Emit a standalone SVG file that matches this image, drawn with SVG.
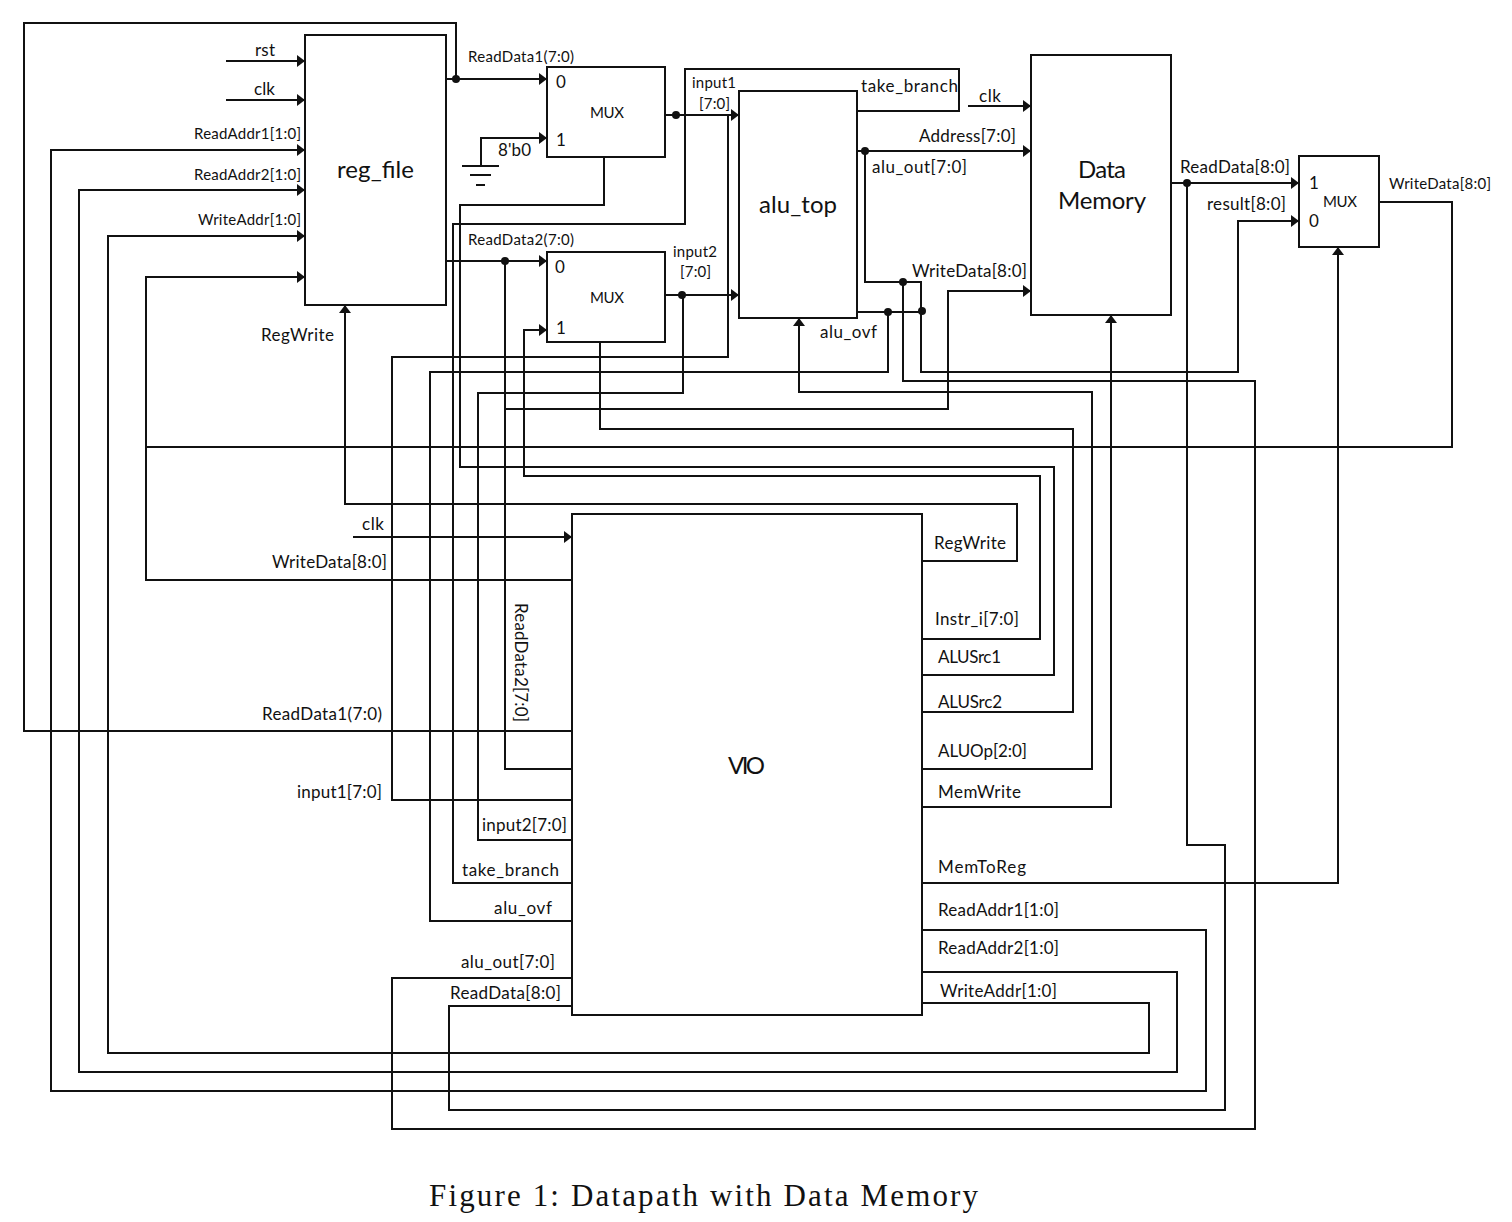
<svg xmlns="http://www.w3.org/2000/svg" width="1512" height="1222" viewBox="0 0 1512 1222">
<style>
.box{fill:none;stroke:#111;stroke-width:2}
.w{fill:none;stroke:#111;stroke-width:2;stroke-linejoin:miter}
.a{marker-end:url(#tip)}
.d{fill:#111}
text{font-family:Lato,"Open Sans",sans-serif;fill:#111;font-size:17px}
.s{font-size:15px}
.b{font-size:24px}
.c{font-family:"Liberation Serif",serif;font-size:31px}
</style>
<defs>
<marker id="tip" markerUnits="userSpaceOnUse" markerWidth="9" markerHeight="12" refX="8" refY="6" orient="auto">
<path d="M0,0L8,6L0,12Z" fill="#111"/>
</marker>
</defs>
<rect width="1512" height="1222" fill="#fff"/>
<g id="connectors">
<path class="w a" d="M226,61H305"/>
<path class="w a" d="M226,100H305"/>
<path class="w a" d="M922,930H1206V1091H51V150H305"/>
<path class="w a" d="M922,972H1177V1072H79V190H305"/>
<path class="w a" d="M922,1003H1149V1053H108V236H305"/>
<path class="w a" d="M572,580H146V277H305"/>
<path class="w" d="M1379,202H1452V447H146"/>
<path class="w a" d="M922,561H1017V504H345V305"/>
<path class="w a" d="M446,79H547"/>
<path class="w" d="M572,731H24V23H456V79"/>
<path class="w a" d="M481,166V138H547"/>
<path class="w" d="M462,166H499M470,175H491M476,185H485"/>
<path class="w" d="M604,157V205H460V467H1054V675H922"/>
<path class="w" d="M857,111H959V69H685V224H453V883H572"/>
<path class="w a" d="M665,115H739"/>
<path class="w" d="M728,115V357H392V800H572"/>
<path class="w a" d="M665,295H739"/>
<path class="w" d="M683,295V393H478V840H572"/>
<path class="w a" d="M446,261H547"/>
<path class="w" d="M505,261V769H572"/>
<path class="w a" d="M922,639H1040V476H524V330H547"/>
<path class="w" d="M600,342V429H1073V712H922"/>
<path class="w a" d="M922,769H1092V392H799V318"/>
<path class="w a" d="M922,807H1111V315"/>
<path class="w a" d="M922,883H1338V247"/>
<path class="w a" d="M857,151H1031"/>
<path class="w a" d="M865,151V282H921V372H1238V221H1299"/>
<path class="w" d="M903,282V381H1255V1129H392V978H572"/>
<path class="w" d="M857,312H922"/>
<path class="w" d="M888,312V372H430V921H572"/>
<path class="w a" d="M505,409H948V291H1031"/>
<path class="w a" d="M1171,183H1299"/>
<path class="w" d="M1187,183V845H1225V1110H449V1006H572"/>
<path class="w a" d="M968,106H1031"/>
<path class="w a" d="M353,537H572"/>
<g class="d">
<circle cx="456" cy="79" r="4"/><circle cx="676" cy="115" r="4"/><circle cx="505" cy="261" r="4"/><circle cx="682" cy="295" r="4"/>
<circle cx="865" cy="151" r="4"/><circle cx="903" cy="282" r="4"/><circle cx="888" cy="312" r="4"/><circle cx="922" cy="311" r="4"/><circle cx="1187" cy="183" r="4"/>
</g>
</g>
<g id="reg_file"><rect class="box" x="305" y="35" width="141" height="270"/><text class="b" x="337" y="178" textLength="77">reg_file</text></g>
<g id="mux_a"><rect class="box" x="547" y="67" width="118" height="90"/><text class="s" x="590" y="118" textLength="34">MUX</text><text x="556" y="88" textLength="9">0</text><text x="556" y="146" textLength="9">1</text></g>
<g id="mux_b"><rect class="box" x="547" y="252" width="118" height="90"/><text class="s" x="590" y="303" textLength="34">MUX</text><text x="555" y="273" textLength="9">0</text><text x="556" y="334" textLength="9">1</text></g>
<g id="alu_top"><rect class="box" x="739" y="91" width="118" height="227"/><text class="b" x="759" y="213" textLength="78">alu_top</text></g>
<g id="data_memory"><rect class="box" x="1031" y="55" width="140" height="260"/><text class="b" x="1078" y="178" textLength="48">Data</text><text class="b" x="1058" y="209" textLength="88">Memory</text></g>
<g id="mux_c"><rect class="box" x="1299" y="156" width="80" height="91"/><text class="s" x="1323" y="207" textLength="34">MUX</text><text x="1309" y="189" textLength="9">1</text><text x="1309" y="227" textLength="9">0</text></g>
<g id="vio"><rect class="box" x="572" y="514" width="350" height="501"/><text class="b" x="728" y="774" textLength="37">VIO</text></g>
<g id="labels">
<text x="255" y="56" textLength="20">rst</text>
<text x="254" y="95" textLength="21">clk</text>
<text class="s" x="194" y="139" textLength="107">ReadAddr1[1:0]</text>
<text class="s" x="194" y="180" textLength="107">ReadAddr2[1:0]</text>
<text class="s" x="198" y="225" textLength="103">WriteAddr[1:0]</text>
<text x="261" y="341" textLength="73">RegWrite</text>
<text class="s" x="468" y="62" textLength="106">ReadData1(7:0)</text>
<text x="498" y="156" textLength="33">8'b0</text>
<text class="s" x="468" y="245" textLength="106">ReadData2(7:0)</text>
<text class="s" x="692" y="88" textLength="44">input1</text>
<text class="s" x="699" y="109" textLength="31">[7:0]</text>
<text class="s" x="673" y="257" textLength="44">input2</text>
<text class="s" x="680" y="277" textLength="31">[7:0]</text>
<text x="861" y="92" textLength="97">take_branch</text>
<text x="979" y="102" textLength="22">clk</text>
<text x="919" y="142" textLength="97">Address[7:0]</text>
<text x="872" y="173" textLength="95">alu_out[7:0]</text>
<text x="912" y="277" textLength="115">WriteData[8:0]</text>
<text x="820" y="338" textLength="57">alu_ovf</text>
<text x="1180" y="173" textLength="110">ReadData[8:0]</text>
<text x="1207" y="210" textLength="79">result[8:0]</text>
<text class="s" x="1389" y="189" textLength="102">WriteData[8:0]</text>
<text x="362" y="530" textLength="22">clk</text>
<text x="272" y="568" textLength="115">WriteData[8:0]</text>
<text x="934" y="549" textLength="72">RegWrite</text>
<text x="935" y="625" textLength="84">Instr_i[7:0]</text>
<text x="938" y="663" textLength="63">ALUSrc1</text>
<text x="938" y="708" textLength="64">ALUSrc2</text>
<text x="938" y="757" textLength="89">ALUOp[2:0]</text>
<text x="938" y="798" textLength="83">MemWrite</text>
<text x="938" y="873" textLength="88">MemToReg</text>
<text x="938" y="916" textLength="121">ReadAddr1[1:0]</text>
<text x="938" y="954" textLength="121">ReadAddr2[1:0]</text>
<text x="940" y="997" textLength="117">WriteAddr[1:0]</text>
<text x="262" y="720" textLength="120">ReadData1(7:0)</text>
<text x="297" y="798" textLength="85">input1[7:0]</text>
<text x="482" y="831" textLength="85">input2[7:0]</text>
<text x="462" y="876" textLength="97">take_branch</text>
<text x="494" y="914" textLength="58">alu_ovf</text>
<text x="461" y="968" textLength="94">alu_out[7:0]</text>
<text x="450" y="999" textLength="111">ReadData[8:0]</text>
<text transform="translate(515,603) rotate(90)" textLength="119">ReadData2[7:0]</text>
<text class="c" x="429" y="1206" textLength="549">Figure 1: Datapath with Data Memory</text>
</g>
</svg>
